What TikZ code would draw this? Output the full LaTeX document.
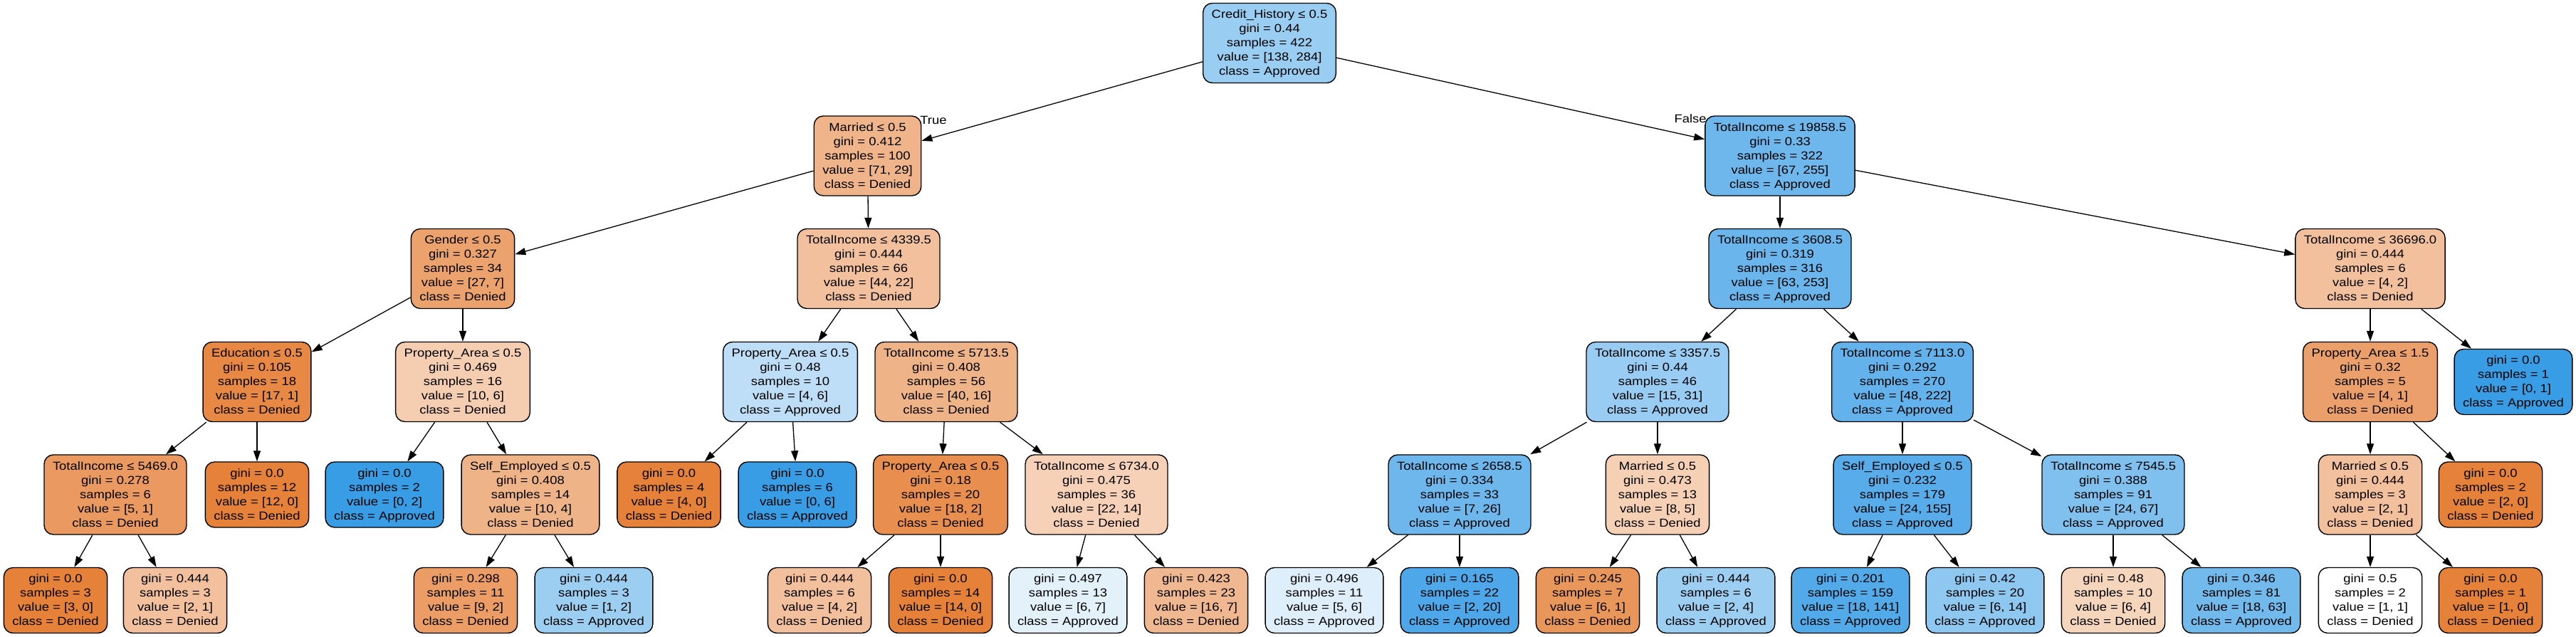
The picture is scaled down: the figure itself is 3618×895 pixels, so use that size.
\documentclass[tikz,border=0pt]{standalone}
\usepackage{fontspec}
\setmainfont{Liberation Sans}[FakeStretch=1.13]
\usetikzlibrary{arrows.meta}
\definecolor{den}{RGB}{229,129,57}
\definecolor{apr}{RGB}{57,157,229}
\newcommand\nodefont{\fontsize{16.3bp}{20bp}\selectfont}
\newcommand\toprl{\rule{0pt}{13.5bp}}
\newcommand\botrl{\rule[-3.5bp]{0pt}{3.5bp}}
\newcommand\spl[5]{\toprl #1\\gini = #2\\samples = #3\\value = #4\\class = #5\botrl}
\newcommand\lf[4]{\toprl gini = #1\\samples = #2\\value = #3\\class = #4\botrl}
\tikzset{
  tn/.style={draw=black, line width=1.4bp, rounded corners=13bp, align=center, font=\nodefont, inner xsep=12bp, inner ysep=7.5bp},
  edge/.style={line width=1.3bp, -{Triangle[length=15bp,width=10bp]}},
  lbl/.style={font=\nodefont, inner sep=0pt},
}
\begin{document}
\begin{tikzpicture}[x=1bp,y=-1bp]
\useasboundingbox (0,0) rectangle (3618,895);
% level 0
\node[tn, fill=apr!51.4!white] (n0) at (1783,60.5) {\spl{Credit\_History ≤ 0.5}{0.44}{422}{[138, 284]}{Approved}};
% level 1
\node[tn, fill=den!59.2!white] (n1) at (1218.5,219) {\spl{Married ≤ 0.5}{0.412}{100}{[71, 29]}{Denied}};
\node[tn, fill=apr!73.7!white] (n2) at (2500,219) {\spl{TotalIncome ≤ 19858.5}{0.33}{322}{[67, 255]}{Approved}};
% level 2
\node[tn, fill=den!74.1!white] (n3) at (650,377.5) {\spl{Gender ≤ 0.5}{0.327}{34}{[27, 7]}{Denied}};
\node[tn, fill=den!50!white] (n4) at (1220,377.5) {\spl{TotalIncome ≤ 4339.5}{0.444}{66}{[44, 22]}{Denied}};
\node[tn, fill=apr!75.1!white] (n5) at (2500,377.5) {\spl{TotalIncome ≤ 3608.5}{0.319}{316}{[63, 253]}{Approved}};
\node[tn, fill=den!50!white] (n6) at (3329,377.5) {\spl{TotalIncome ≤ 36696.0}{0.444}{6}{[4, 2]}{Denied}};
% level 3
\node[tn, fill=den!94.1!white] (n7) at (361,536.5) {\spl{Education ≤ 0.5}{0.105}{18}{[17, 1]}{Denied}};
\node[tn, fill=den!40!white] (n8) at (650,536.5) {\spl{Property\_Area ≤ 0.5}{0.469}{16}{[10, 6]}{Denied}};
\node[tn, fill=apr!33.3!white] (n9) at (1110,536.5) {\spl{Property\_Area ≤ 0.5}{0.48}{10}{[4, 6]}{Approved}};
\node[tn, fill=den!60!white] (n10) at (1329,536.5) {\spl{TotalIncome ≤ 5713.5}{0.408}{56}{[40, 16]}{Denied}};
\node[tn, fill=apr!51.6!white] (n11) at (2328,536.5) {\spl{TotalIncome ≤ 3357.5}{0.44}{46}{[15, 31]}{Approved}};
\node[tn, fill=apr!78.4!white] (n12) at (2672,536.5) {\spl{TotalIncome ≤ 7113.0}{0.292}{270}{[48, 222]}{Approved}};
\node[tn, fill=den!75!white] (n13) at (3329,536.5) {\spl{Property\_Area ≤ 1.5}{0.32}{5}{[4, 1]}{Denied}};
\node[tn, fill=apr] (n14) at (3530,536.5) {\lf{0.0}{1}{[0, 1]}{Approved}};
% level 4
\node[tn, fill=den!80!white] (n15) at (162,695) {\spl{TotalIncome ≤ 5469.0}{0.278}{6}{[5, 1]}{Denied}};
\node[tn, fill=den] (n16) at (361,695) {\lf{0.0}{12}{[12, 0]}{Denied}};
\node[tn, fill=apr] (n17) at (540,695) {\lf{0.0}{2}{[0, 2]}{Approved}};
\node[tn, fill=den!60!white] (n18) at (745,695) {\spl{Self\_Employed ≤ 0.5}{0.408}{14}{[10, 4]}{Denied}};
\node[tn, fill=den] (n19) at (939.5,695) {\lf{0.0}{4}{[4, 0]}{Denied}};
\node[tn, fill=apr] (n20) at (1120,695) {\lf{0.0}{6}{[0, 6]}{Approved}};
\node[tn, fill=den!88.9!white] (n21) at (1321,695) {\spl{Property\_Area ≤ 0.5}{0.18}{20}{[18, 2]}{Denied}};
\node[tn, fill=den!36.4!white] (n22) at (1540,695) {\spl{TotalIncome ≤ 6734.0}{0.475}{36}{[22, 14]}{Denied}};
\node[tn, fill=apr!73.1!white] (n23) at (2050,695) {\spl{TotalIncome ≤ 2658.5}{0.334}{33}{[7, 26]}{Approved}};
\node[tn, fill=den!37.5!white] (n24) at (2328,695) {\spl{Married ≤ 0.5}{0.473}{13}{[8, 5]}{Denied}};
\node[tn, fill=apr!84.5!white] (n25) at (2672,695) {\spl{Self\_Employed ≤ 0.5}{0.232}{179}{[24, 155]}{Approved}};
\node[tn, fill=apr!64.2!white] (n26) at (2968,695) {\spl{TotalIncome ≤ 7545.5}{0.388}{91}{[24, 67]}{Approved}};
\node[tn, fill=den!50!white] (n27) at (3329,695) {\spl{Married ≤ 0.5}{0.444}{3}{[2, 1]}{Denied}};
\node[tn, fill=den] (n28) at (3498,695) {\lf{0.0}{2}{[2, 0]}{Denied}};
% level 5
\node[tn, fill=den] (n29) at (78,843.5) {\lf{0.0}{3}{[3, 0]}{Denied}};
\node[tn, fill=den!50!white] (n30) at (246,843.5) {\lf{0.444}{3}{[2, 1]}{Denied}};
\node[tn, fill=den!77.8!white] (n31) at (654,843.5) {\lf{0.298}{11}{[9, 2]}{Denied}};
\node[tn, fill=apr!50!white] (n32) at (834,843.5) {\lf{0.444}{3}{[1, 2]}{Approved}};
\node[tn, fill=den!50!white] (n33) at (1151,843.5) {\lf{0.444}{6}{[4, 2]}{Denied}};
\node[tn, fill=den] (n34) at (1321,843.5) {\lf{0.0}{14}{[14, 0]}{Denied}};
\node[tn, fill=apr!14.3!white] (n35) at (1500,843.5) {\lf{0.497}{13}{[6, 7]}{Approved}};
\node[tn, fill=den!56.3!white] (n36) at (1680,843.5) {\lf{0.423}{23}{[16, 7]}{Denied}};
\node[tn, fill=apr!16.7!white] (n37) at (1860,843.5) {\lf{0.496}{11}{[5, 6]}{Approved}};
\node[tn, fill=apr!90!white] (n38) at (2050,843.5) {\lf{0.165}{22}{[2, 20]}{Approved}};
\node[tn, fill=den!83.3!white] (n39) at (2230,843.5) {\lf{0.245}{7}{[6, 1]}{Denied}};
\node[tn, fill=apr!50!white] (n40) at (2410,843.5) {\lf{0.444}{6}{[2, 4]}{Approved}};
\node[tn, fill=apr!87.2!white] (n41) at (2599,843.5) {\lf{0.201}{159}{[18, 141]}{Approved}};
\node[tn, fill=apr!57.1!white] (n42) at (2788,843.5) {\lf{0.42}{20}{[6, 14]}{Approved}};
\node[tn, fill=den!33.3!white] (n43) at (2968,843.5) {\lf{0.48}{10}{[6, 4]}{Denied}};
\node[tn, fill=apr!71.4!white] (n44) at (3148,843.5) {\lf{0.346}{81}{[18, 63]}{Approved}};
\node[tn, fill=white] (n45) at (3329,843.5) {\lf{0.5}{2}{[1, 1]}{Denied}};
\node[tn, fill=den] (n46) at (3498,843.5) {\lf{0.0}{1}{[1, 0]}{Denied}};
% labels
\node[lbl] (tlab) at (1311,168.5) {True};
\node[lbl] (flab) at (2374,166.5) {False};
% edges
\foreach \a/\b in {n0/n1,n0/n2,n1/n3,n1/n4,n2/n5,n2/n6,n3/n7,n3/n8,n4/n9,n4/n10,
  n5/n11,n5/n12,n6/n13,n6/n14,n7/n15,n7/n16,n8/n17,n8/n18,n9/n19,n9/n20,
  n10/n21,n10/n22,n11/n23,n11/n24,n12/n25,n12/n26,n13/n27,n13/n28,
  n15/n29,n15/n30,n18/n31,n18/n32,n21/n33,n21/n34,n22/n35,n22/n36,
  n23/n37,n23/n38,n24/n39,n24/n40,n25/n41,n25/n42,n26/n43,n26/n44,n27/n45,n27/n46}
  \draw[edge] (\a) -- (\b);
\end{tikzpicture}
\end{document}
